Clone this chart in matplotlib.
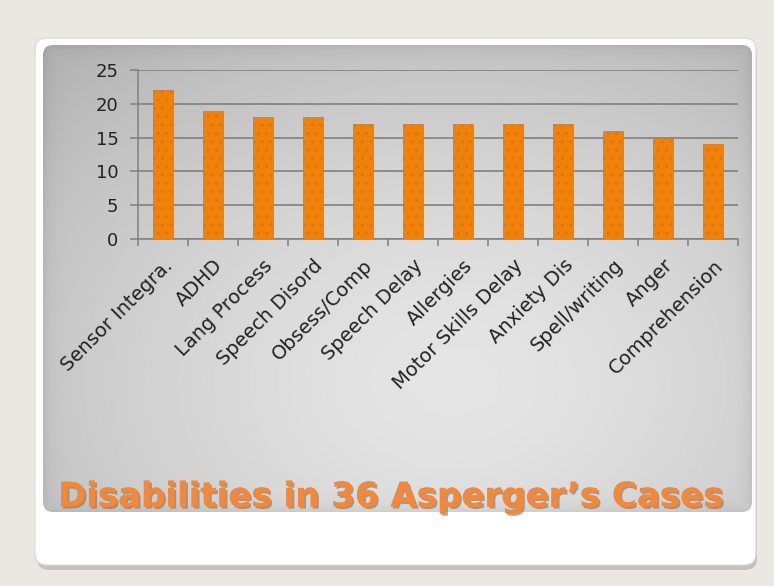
import matplotlib
matplotlib.use("Agg")
import matplotlib.pyplot as plt
import matplotlib.patheffects as pe
import matplotlib.transforms as mtransforms
from matplotlib.patches import FancyBboxPatch
import numpy as np

categories = ["Sensor Integra.", "ADHD", "Lang Process", "Speech Disord",
              "Obsess/Comp", "Speech Delay", "Allergies", "Motor Skills Delay",
              "Anxiety Dis", "Spell/writing", "Anger", "Comprehension"]
cases = [22, 19, 18, 18, 17, 17, 17, 17, 17, 16, 15, 14]
title = "Disabilities in 36 Asperger\u2019s Cases"

plt.rcParams["hatch.color"] = "#f6a030"

W, H = 774, 586
fig = plt.figure(figsize=(W / 100, H / 100), dpi=100)
fig.patch.set_facecolor("#ebe8e1")

# background layer in pixel coords
bg = fig.add_axes([0, 0, 1, 1])
bg.set_xlim(0, W)
bg.set_ylim(H, 0)
bg.axis("off")

# card shadow + white card
shadow = FancyBboxPatch((37, 42), 720, 528, boxstyle="round,pad=0,rounding_size=12",
                        fc="#b5b2ab", ec="none", alpha=0.7)
bg.add_patch(shadow)
card = FancyBboxPatch((35, 38), 721, 527, boxstyle="round,pad=0,rounding_size=12",
                      fc="white", ec="#d8d8d8", lw=0.8)
bg.add_patch(card)

# grey gradient panel
px0, px1, py0, py1 = 43, 752, 45, 512
yy, xx = np.mgrid[0:1:300j, 0:1:400j]
r = np.sqrt(((xx - 0.58) / 0.75) ** 2 + ((yy - 0.72) / 0.85) ** 2)
shade = np.clip(0.90 - 0.17 * r ** 1.4, 0.68, 0.90)
# slight darker rim at the panel edges
rim = np.minimum.reduce([xx * 400, (1 - xx) * 400, yy * 300, (1 - yy) * 300])
shade = shade - 0.05 * np.exp(-rim / 4)
img = bg.imshow(shade, cmap="gray", vmin=0, vmax=1, extent=(px0, px1, py1, py0),
                aspect="auto", zorder=1)
panel = FancyBboxPatch((px0, py0), px1 - px0, py1 - py0,
                       boxstyle="round,pad=0,rounding_size=10",
                       fc="none", ec="none", transform=bg.transData)
bg.add_patch(panel)
img.set_clip_path(panel)

# chart
ax = fig.add_axes([138 / W, 1 - 239 / H, (738 - 138) / W, (239 - 70) / H])
ax.patch.set_alpha(0)
x = np.arange(len(categories))
ax.bar(x, cases, width=0.4, color="#f0820c", edgecolor="#e07508", lw=0.5,
       hatch="..", zorder=3)
ax.set_xlim(-0.5, len(categories) - 0.5)
ax.set_ylim(0, 25)
ax.set_yticks([0, 5, 10, 15, 20, 25])
ax.yaxis.grid(True, color="#7a7a7a", lw=1.1, zorder=0)
ax.set_axisbelow(True)
for s in ["top", "right"]:
    ax.spines[s].set_visible(False)
for s in ["left", "bottom"]:
    ax.spines[s].set_color("#808080")
    ax.spines[s].set_linewidth(1.1)
ax.tick_params(axis="y", labelsize=13, labelcolor="#222222", color="#808080",
               length=6, width=1.1, pad=8)
ax.set_xticks(x)
ax.set_xticklabels(categories, rotation=45, ha="right", va="center",
                   rotation_mode="anchor", fontsize=14, color="#222222")
ax.tick_params(axis="x", length=0, pad=17)
shift = mtransforms.ScaledTranslation(7 / 100, 0, fig.dpi_scale_trans)
for lab in ax.get_xticklabels():
    lab.set_transform(lab.get_transform() + shift)
ax.set_xticks(np.arange(-0.5, len(categories)), minor=True)
ax.tick_params(axis="x", which="minor", length=5, width=1.1, color="#808080")

bg.text(391, 497, title, ha="center", va="center", fontsize=24.5,
        fontweight="bold", color="#f4883a", zorder=5,
        path_effects=[pe.withSimplePatchShadow(offset=(1.5, -1.5),
                                               shadow_rgbFace="#8a6a50", alpha=0.6),
                      pe.Normal()])

fig.savefig("out.png", dpi=100, facecolor=fig.get_facecolor())
